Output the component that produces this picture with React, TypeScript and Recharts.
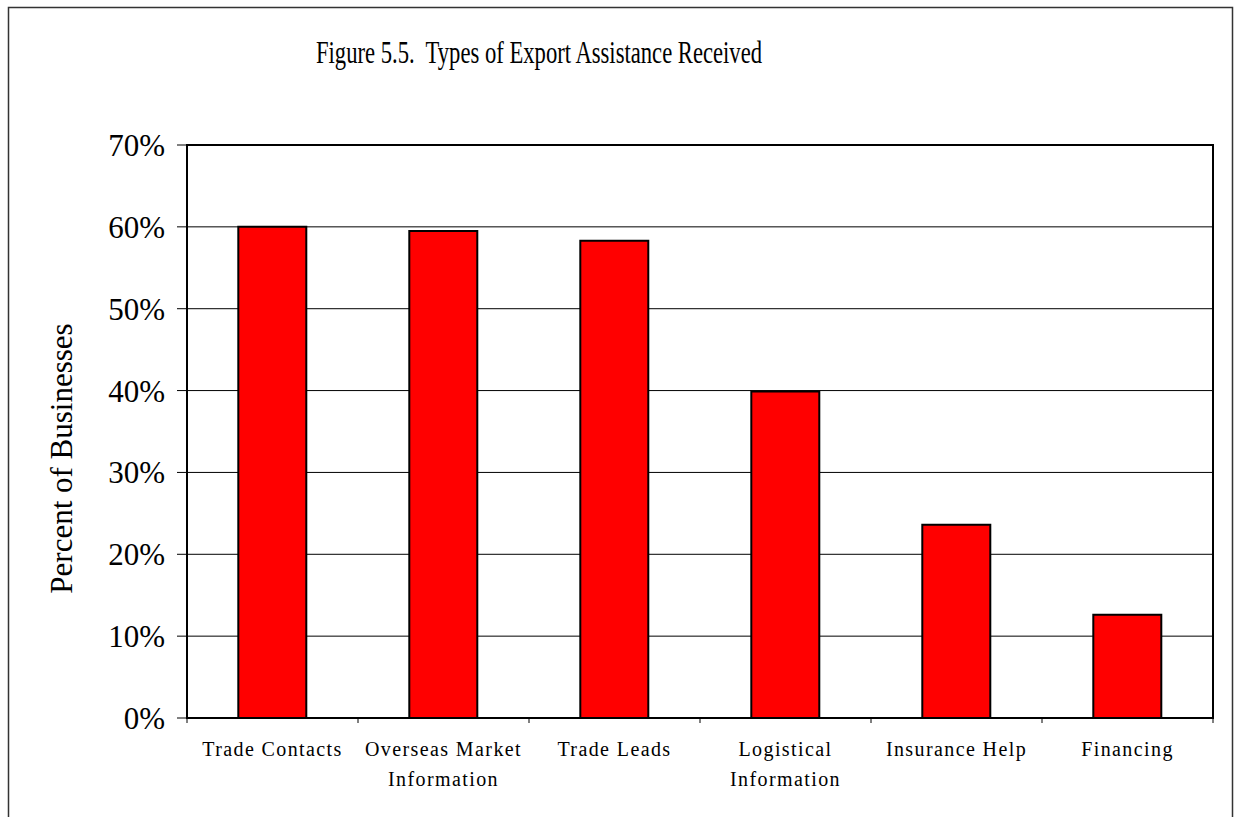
import { Bar, BarChart, CartesianGrid, ReferenceArea, XAxis, YAxis } from "recharts";

const categories = [
  "Trade Contacts",
  "Overseas Market\nInformation",
  "Trade Leads",
  "Logistical\nInformation",
  "Insurance Help",
  "Financing",
];
const percentBusinesses = [60.0, 59.5, 58.3, 39.9, 23.6, 12.6];
const yTicks = [0, 10, 20, 30, 40, 50, 60, 70];

const title = "Figure 5.5.  Types of Export Assistance Received";
const yTitle = "Percent of Businesses";

const serif = "'Liberation Serif', 'Times New Roman', serif";

const data = categories.map((name, i) => ({ name, value: percentBusinesses[i] }));

function CategoryTick(props: any) {
  const { x, y, payload, index, visibleTicksCount } = props;
  const half = payload.offset || 0;
  const lines = String(payload.value).split("\n");
  return (
    <g>
      <line x1={x - half} x2={x - half} y1={y} y2={y + 5} stroke="#000" strokeWidth={1} />
      {index === visibleTicksCount - 1 && (
        <line x1={x + half} x2={x + half} y1={y} y2={y + 5} stroke="#000" strokeWidth={1} />
      )}
      <text
        x={x}
        y={y + 38}
        textAnchor="middle"
        fontFamily={serif}
        fontSize={20}
        letterSpacing={1.4}
        fill="#000"
      >
        {lines.map((l, i) => (
          <tspan key={i} x={x} dy={i === 0 ? 0 : 30}>
            {l}
          </tspan>
        ))}
      </text>
    </g>
  );
}

function YTitle(props: any) {
  const vb = props.viewBox || { x: 0, y: 0, width: 0, height: 0 };
  // Excel places this title a little below the plot centre
  const cy = vb.y + vb.height / 2 + 27;
  return (
    <text
      transform={`translate(63, ${cy}) rotate(-90)`}
      x={0}
      y={0}
      textAnchor="middle"
      fontFamily={serif}
      fontSize={31}
      fill="#000"
    >
      {yTitle}
    </text>
  );
}

export default function App() {
  return (
    <div
      style={{
        position: "fixed",
        left: 0,
        top: 0,
        width: 1235,
        height: 817,
        overflow: "hidden",
        background: "#fff",
      }}
    >
      <svg
        width={1235}
        height={817}
        style={{ position: "absolute", left: 0, top: 0 }}
      >
        <polyline
          points="8.5,817 8.5,7.5 1232.5,7.5 1232.5,817"
          fill="none"
          stroke="#333"
          strokeWidth={1.5}
        />
      </svg>
      <div style={{ position: "absolute", left: 9, top: 8 }}>
        <BarChart
          width={1223}
          height={790}
          data={data}
          margin={{ top: 137, right: 19, bottom: 20, left: 8 }}
          barCategoryGap="30%"
        >
          <CartesianGrid horizontal vertical={false} stroke="#000" strokeWidth={1} />
          <XAxis
            dataKey="name"
            height={60}
            tickLine={false}
            tickSize={0}
            tickMargin={0}
            axisLine={{ stroke: "#000", strokeWidth: 2 }}
            tick={<CategoryTick />}
            interval={0}
          />
          <YAxis
            width={170}
            domain={[0, 70]}
            ticks={yTicks}
            interval={0}
            tickFormatter={(v: number) => `${v}%`}
            tickSize={10}
            tickMargin={12}
            tickLine={{ stroke: "#000", strokeWidth: 1 }}
            axisLine={{ stroke: "#000", strokeWidth: 2 }}
            tick={{ fill: "#000", fontFamily: serif, fontSize: 31 }}
            label={{ content: (p: any) => <YTitle {...p} /> }}
          />
          <ReferenceArea
            x1={categories[0]}
            x2={categories[categories.length - 1]}
            y1={0}
            y2={70}
            fill="none"
            stroke="#000"
            strokeWidth={2}
          />
          <Bar
            dataKey="value"
            fill="#ff0000"
            stroke="#000"
            strokeWidth={2}
            isAnimationActive={false}
          />
        </BarChart>
      </div>
      <svg
        width={1235}
        height={120}
        style={{ position: "absolute", left: 0, top: 0, pointerEvents: "none" }}
      >
        <text
          x={539}
          y={63}
          textAnchor="middle"
          fontFamily={serif}
          fontSize={32}
          textLength={446}
          lengthAdjust="spacingAndGlyphs"
          fill="#000"
          style={{ whiteSpace: "pre" }}
        >
          {title}
        </text>
      </svg>
    </div>
  );
}
